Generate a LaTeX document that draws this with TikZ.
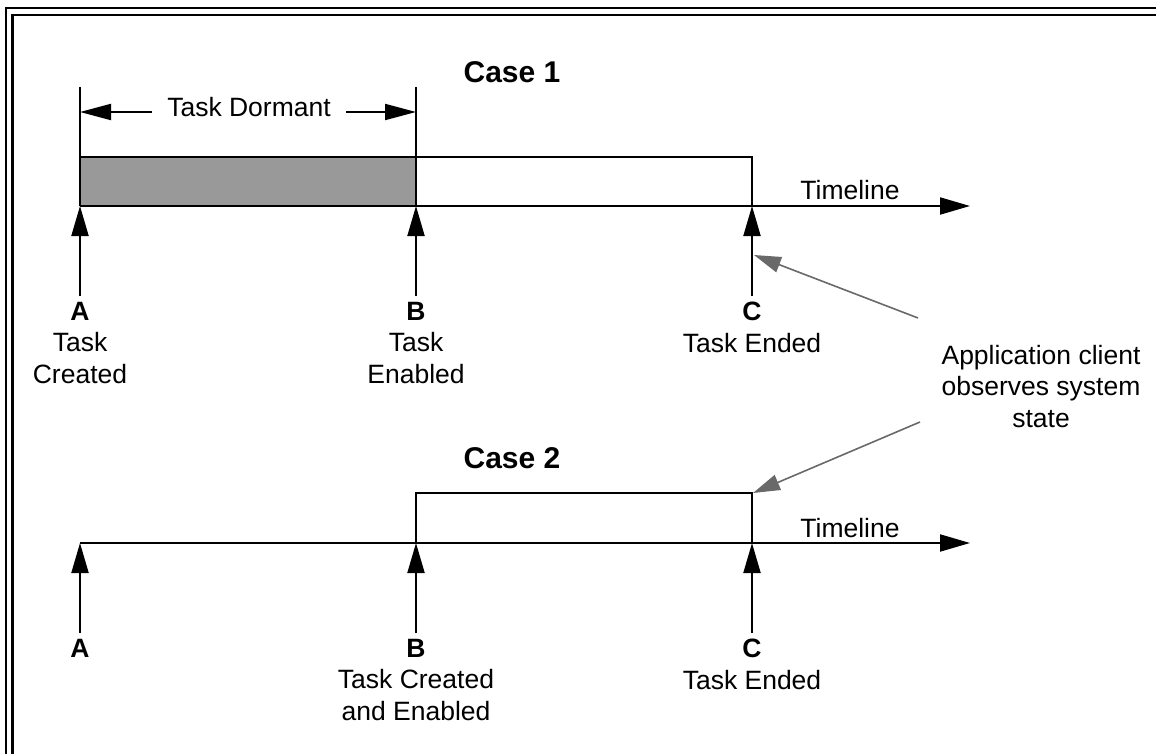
\documentclass[tikz,border=0pt]{standalone}
\usepackage{fontspec}
\setmainfont{Liberation Sans}
\usetikzlibrary{arrows.meta}
\tikzset{
  ln/.style={line width=2pt, black},
  uparrow/.style={line width=2pt, -{Triangle[length=30pt,width=17pt]}},
  tlarrow/.style={line width=2pt, -{Triangle[length=30pt,width=17pt]}},
  dimarrow/.style={line width=2pt, -{Triangle[length=31pt,width=16pt]}},
  grayarrow/.style={line width=1.6pt, draw={rgb,255:red,105;green,105;blue,105}, -{Triangle[length=27pt,width=16pt]}, fill={rgb,255:red,105;green,105;blue,105}},
  lbl/.style={font=\fontsize{26.5}{31.5}\selectfont, inner sep=0pt, align=center, anchor=north},
  txt/.style={font=\fontsize{26.5}{31.5}\selectfont, inner sep=0pt, align=center},
  title/.style={font=\fontsize{30}{34}\selectfont\bfseries, inner sep=0pt, anchor=base},
  frame/.style={line width=2.2pt}
}
\definecolor{dormant}{RGB}{153,153,153}
\begin{document}
\begin{tikzpicture}[x=1pt,y=-1pt]
\useasboundingbox (0,0) rectangle (1156,754);
% frame (top and left, double line)
\coordinate (fo1) at (6,760);
\coordinate (fo2) at (6,8);
\coordinate (fo3) at (1160,8);
\coordinate (fi1) at (12.5,760);
\coordinate (fi2) at (12.5,15);
\coordinate (fi3) at (1160,15);
\draw[frame] (fo1) -- (fo2) -- (fo3);
\draw[frame] (fi1) -- (fi2) -- (fi3);

% ---------- Case 1 ----------
\node[title] (case1) at (512,83) {Case 1};
\coordinate (A1) at (80,206);
\coordinate (B1) at (416,206);
\coordinate (C1) at (752,206);
\coordinate (E1) at (970,206);
\coordinate (A1t) at (80,87);
\coordinate (B1t) at (416,87);
\coordinate (A1b) at (80,157);
\coordinate (B1b) at (416,157);
\coordinate (C1b) at (752,157);
\fill[dormant] (A1b) rectangle (B1);
\draw[ln] (A1t) -- (A1);
\draw[ln] (B1t) -- (B1);
\draw[ln] (A1b) -- (C1b) -- (C1);
\draw[tlarrow] (A1) -- (E1);
\node[txt, anchor=base] (tl1) at (850,200) {Timeline};
% Task dormant
\node[txt] (dorm) at (249,107) {Task Dormant};
\coordinate (dl) at (80,112);
\coordinate (dr) at (416,112);
\coordinate (dls) at (152,112);
\coordinate (drs) at (346,112);
\draw[dimarrow] (dls) -- (dl);
\draw[dimarrow] (drs) -- (dr);
% up arrows
\coordinate (A1s) at (80,296);
\coordinate (B1s) at (416,296);
\coordinate (C1s) at (752,296);
\draw[uparrow] (A1s) -- (A1);
\draw[uparrow] (B1s) -- (B1);
\draw[uparrow] (C1s) -- (C1);
\node[lbl] (lA1) at (80,302) {\textbf{A}\\Task\\Created};
\node[lbl] (lB1) at (416,302) {\textbf{B}\\Task\\Enabled};
\node[lbl] (lC1) at (752,302) {\textbf{C}\\Task Ended};

% ---------- Case 2 ----------
\node[title] (case2) at (512,468) {Case 2};
\coordinate (A2) at (80,543);
\coordinate (B2) at (416,543);
\coordinate (C2) at (752,543);
\coordinate (E2) at (970,543);
\coordinate (B2b) at (416,493);
\coordinate (C2b) at (752,493);
\draw[ln] (B2) -- (B2b) -- (C2b) -- (C2);
\draw[tlarrow] (A2) -- (E2);
\node[txt, anchor=base] (tl2) at (850,537) {Timeline};
\coordinate (A2s) at (80,633);
\coordinate (B2s) at (416,633);
\coordinate (C2s) at (752,633);
\draw[uparrow] (A2s) -- (A2);
\draw[uparrow] (B2s) -- (B2);
\draw[uparrow] (C2s) -- (C2);
\node[lbl] (lA2) at (80,639) {\textbf{A}};
\node[lbl] (lB2) at (416,639) {\textbf{B}\\Task Created\\and Enabled};
\node[lbl] (lC2) at (752,639) {\textbf{C}\\Task Ended};

% ---------- observer ----------
\node[txt, anchor=north] (obs) at (1041,345) {Application client\\observes system\\state};
\coordinate (g1s) at (918,318);
\coordinate (g1e) at (754,255);
\coordinate (g2s) at (920,422);
\coordinate (g2e) at (753,493);
\draw[grayarrow] (g1s) -- (g1e);
\draw[grayarrow] (g2s) -- (g2e);
\end{tikzpicture}
\end{document}
